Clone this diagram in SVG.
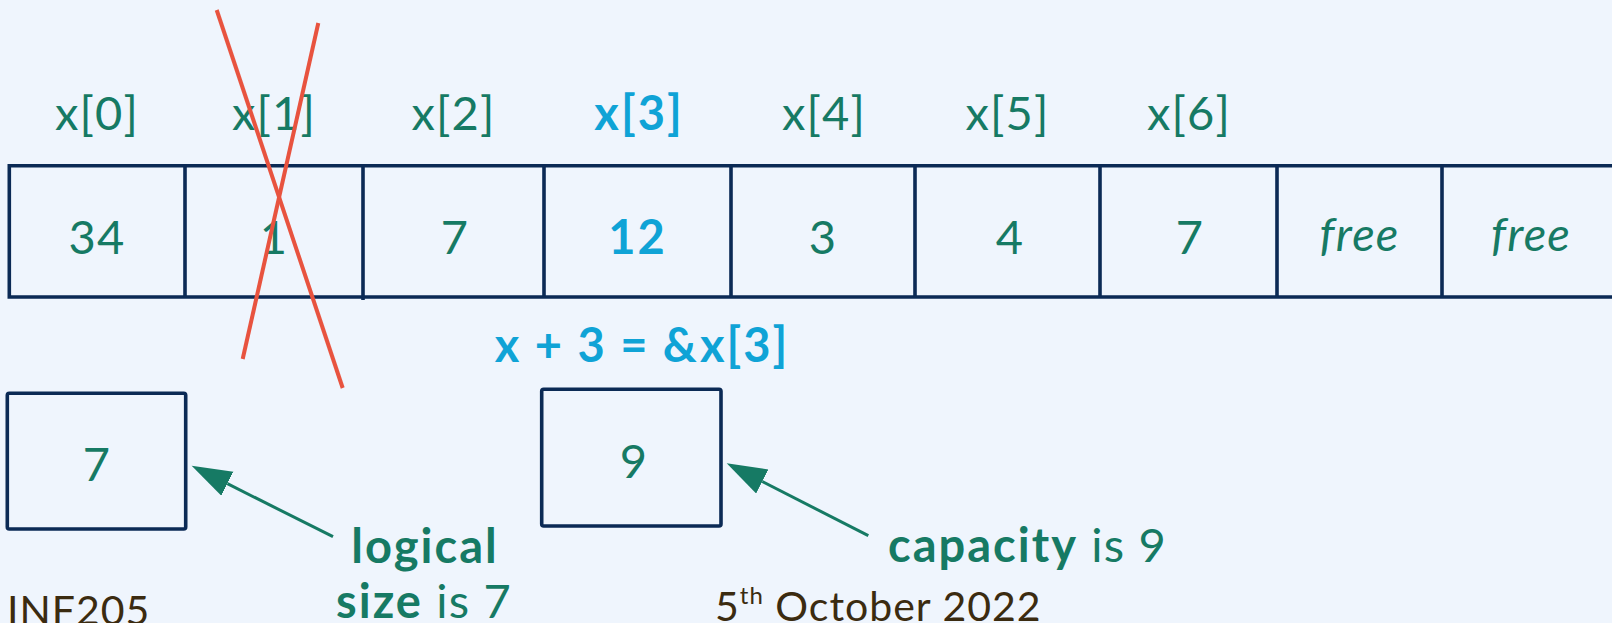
<svg xmlns="http://www.w3.org/2000/svg" width="1612" height="623" viewBox="0 0 1612 623">
<style>
.t{font-family:Lato,"Noto Sans","DejaVu Sans",sans-serif;font-size:47px;fill:#167A64;text-anchor:middle;letter-spacing:1.2px}
.b{font-weight:bold;letter-spacing:2px}
.blue{fill:#0FA3D6}
.it{font-style:italic}
.box{fill:none;stroke:#0B2A55;stroke-width:3.6}
.cross{stroke:#E8533F;stroke-width:4;stroke-linecap:butt}
.conn{stroke:#167A64;stroke-width:3;fill:none}
.foot{font-family:Lato,"Noto Sans","DejaVu Sans",sans-serif;font-size:41px;fill:#3B2B10;letter-spacing:1px}
</style>
<defs>
<marker id="ah" markerUnits="userSpaceOnUse" markerWidth="42" markerHeight="28" refX="0" refY="13.5" orient="auto" viewBox="0 0 42 28">
<path d="M0,0 L40,13.5 L0,27 z" fill="#167A64"/>
</marker>
</defs>
<rect width="1612" height="623" fill="#EFF5FD"/>
<g id="array">
<path class="box" d="M1615,165.7 H9.3 V297 H1615"/>
<path class="box" d="M185,165.7 V297 M363,167 V300 M544,165.7 V297 M731,165.7 V297 M915,165.7 V297 M1100,165.7 V297 M1277,165.7 V297 M1442,165.7 V297"/>
</g>
<g id="labels">
<text class="t" x="97" y="130">x[0]</text>
<text class="t" x="274" y="130">x[1]</text>
<text class="t" x="453.5" y="130">x[2]</text>
<text class="t b blue" x="639" y="130">x[3]</text>
<text class="t" x="824" y="130">x[4]</text>
<text class="t" x="1007.5" y="130">x[5]</text>
<text class="t" x="1189" y="130">x[6]</text>
</g>
<g id="values">
<text class="t" x="97" y="254">34</text>
<text class="t" x="274" y="254">1</text>
<text class="t" x="455" y="254">7</text>
<text class="t b blue" x="637.5" y="254">12</text>
<text class="t" x="823" y="254">3</text>
<text class="t" x="1010" y="254">4</text>
<text class="t" x="1190" y="254">7</text>
<text class="t it" x="1359.5" y="251">free</text>
<text class="t it" x="1531" y="251">free</text>
</g>
<g id="cross">
<line class="cross" x1="216.7" y1="10" x2="342.7" y2="388"/>
<line class="cross" x1="318.3" y1="23" x2="242.7" y2="359"/>
</g>
<text id="pointer" class="t b blue" x="642" y="362">x + 3 = &amp;x[3]</text>
<g id="size-box">
<rect class="box" x="7.3" y="393.3" width="178.4" height="135.7" rx="2"/>
<text class="t" x="97" y="481">7</text>
</g>
<g id="capacity-box">
<rect class="box" x="541.7" y="389.3" width="179.3" height="136.7" rx="2"/>
<text class="t" x="634" y="478">9</text>
</g>
<g id="connectors">
<line class="conn" x1="333" y1="536.7" x2="227.4" y2="483.7" marker-end="url(#ah)"/>
<line class="conn" x1="868.3" y1="535.7" x2="762.3" y2="481.5" marker-end="url(#ah)"/>
</g>
<g id="size-label">
<text class="t b" x="425" y="562.7">logical</text>
<text class="t" x="424" y="618"><tspan class="b">size</tspan> is 7</text>
</g>
<g id="capacity-label">
<text class="t" x="888" y="562" style="text-anchor:start"><tspan class="b">capacity</tspan> is 9</text>
</g>
<text class="foot" x="7" y="625">INF205</text>
<text class="foot" x="715" y="621">5<tspan font-size="24" dy="-17">th</tspan><tspan dy="17"> October 2022</tspan></text>
</svg>
